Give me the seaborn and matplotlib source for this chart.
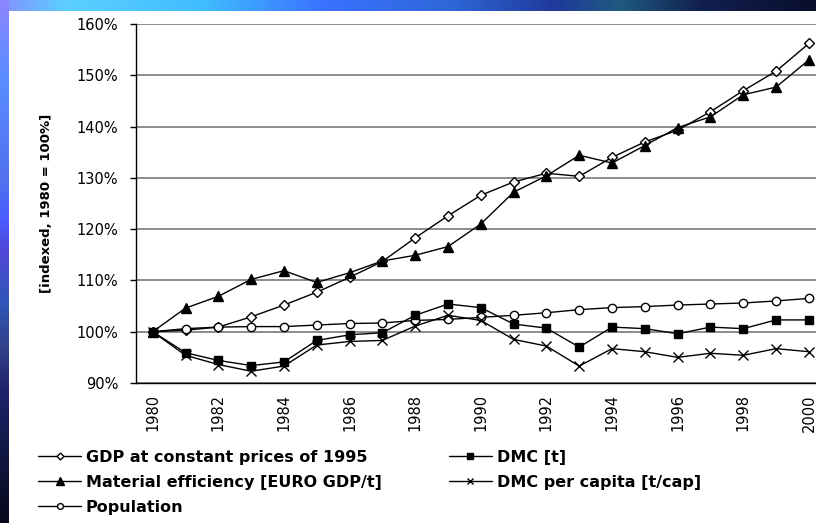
import numpy as np
import pandas as pd
import matplotlib
matplotlib.use("Agg")
import matplotlib.pyplot as plt
from matplotlib.colors import LinearSegmentedColormap
from matplotlib.ticker import FixedLocator, FuncFormatter
import seaborn as sns

# Indexed development, 1980 = 100 %
years = list(range(1980, 2001))
gdp = [100.0, 100.3, 100.9, 102.9, 105.2, 107.7, 110.6, 113.7, 118.3, 122.6, 126.6,
       129.2, 130.9, 130.3, 134.0, 137.0, 139.3, 142.9, 147.0, 150.8, 156.2]
material_efficiency = [100.0, 104.6, 106.9, 110.2, 111.9, 109.6, 111.5, 113.8, 114.9, 116.6, 121.0,
                       127.2, 130.4, 134.4, 132.9, 136.3, 139.8, 141.9, 146.2, 147.7, 153.0]
population = [100.0, 100.6, 100.9, 101.0, 101.0, 101.3, 101.6, 101.7, 102.2, 102.4, 102.8,
              103.2, 103.7, 104.3, 104.7, 104.9, 105.2, 105.4, 105.6, 106.0, 106.5]
dmc = [100.0, 95.9, 94.4, 93.4, 94.1, 98.3, 99.4, 99.8, 103.2, 105.4, 104.7,
       101.5, 100.7, 97.0, 100.9, 100.6, 99.6, 100.9, 100.6, 102.3, 102.3]
dmc_per_capita = [100.0, 95.4, 93.6, 92.3, 93.3, 97.4, 98.1, 98.3, 101.1, 103.2, 102.2,
                  98.5, 97.2, 93.3, 96.7, 96.1, 95.0, 95.8, 95.4, 96.7, 96.1]

series_names = ["GDP at constant prices of 1995",
                "Material efficiency [EURO GDP/t]",
                "Population",
                "DMC [t]",
                "DMC per capita [t/cap]"]
y_ticks = [90, 100, 110, 120, 130, 140, 150, 160]
x_tick_years = years[::2]

df = pd.DataFrame({"year": years,
                   series_names[0]: gdp,
                   series_names[1]: material_efficiency,
                   series_names[2]: population,
                   series_names[3]: dmc,
                   series_names[4]: dmc_per_capita})

sns.set_style("white")
plt.rcParams["font.family"] = ["DejaVu Sans"]
plt.rcParams["text.color"] = "black"
plt.rcParams["axes.labelcolor"] = "black"
plt.rcParams["xtick.color"] = "black"
plt.rcParams["ytick.color"] = "black"

W, H = 816, 523
fig = plt.figure(figsize=(W / 100, H / 100), dpi=100)
fig.patch.set_facecolor("white")

# slide background bands along the top and left edges
top_cmap = LinearSegmentedColormap.from_list("top", [
    (0.00, "#8590ff"), (0.08, "#5ccfff"), (0.25, "#40bcff"), (0.40, "#3a70ff"),
    (0.55, "#2e68d8"), (0.68, "#20399c"), (0.76, "#1f5a80"), (0.86, "#122050"),
    (1.00, "#090f2c")])
left_cmap = LinearSegmentedColormap.from_list("left", [
    (0.00, "#8a86ff"), (0.15, "#5a8cff"), (0.35, "#5070f0"), (0.42, "#4a5cff"),
    (0.48, "#5048d8"), (0.58, "#2f56b8"), (0.66, "#34428c"), (0.75, "#20226c"),
    (0.85, "#121a48"), (1.00, "#07081c")])
ax_top = fig.add_axes([0, 1 - 11 / H, 1, 11 / H])
ax_top.imshow(np.linspace(0, 1, 256)[None, :], aspect="auto", cmap=top_cmap,
              extent=[0, 1, 0, 1])
ax_top.set_axis_off()
ax_left = fig.add_axes([0, 0, 9 / W, 1])
ax_left.imshow(np.linspace(0, 1, 256)[:, None], aspect="auto", cmap=left_cmap,
               extent=[0, 1, 0, 1])
ax_left.set_axis_off()

x0, x1 = 136.3, 825.3
y_top, y_bot = 24.0, 383.0
ax = fig.add_axes([x0 / W, 1 - y_bot / H, (x1 - x0) / W, (y_bot - y_top) / H])
ax.set_facecolor("white")

styles = {
    series_names[0]: dict(marker="D", markersize=5, markerfacecolor="white"),
    series_names[1]: dict(marker="^", markersize=7.5, markerfacecolor="black"),
    series_names[2]: dict(marker="o", markersize=6, markerfacecolor="white"),
    series_names[3]: dict(marker="s", markersize=5.5, markerfacecolor="black"),
    series_names[4]: dict(marker="x", markersize=7, markerfacecolor="black"),
}
for name in series_names:
    sns.lineplot(data=df, x="year", y=name, ax=ax, color="black", linewidth=1.0,
                 markeredgecolor="black", markeredgewidth=1.0, label=name,
                 zorder=3, **styles[name])

ax.set_xlim(1979.5, 2000.5)
ax.set_ylim(90, 160)
ax.yaxis.set_major_locator(FixedLocator(y_ticks))
ax.yaxis.set_major_formatter(FuncFormatter(lambda v, p: f"{v:.0f}%"))
ax.grid(axis="y", color="#6e6e6e", linewidth=1.1, zorder=0)
ax.grid(axis="x", visible=False)
for side in ("top", "right"):
    ax.spines[side].set_visible(False)
for side in ("left", "bottom"):
    ax.spines[side].set_color("black")
    ax.spines[side].set_linewidth(1.0)
ax.spines["left"].set_zorder(4)

ax.set_xticks(x_tick_years)
ax.set_xticklabels([str(y) for y in x_tick_years], rotation=90)
ax.set_xticks(np.arange(1979.5, 2001, 1.0), minor=True)
ax.tick_params(axis="x", which="major", length=0, pad=8, labelsize=10.5,
               colors="black")
ax.tick_params(axis="x", which="minor", length=4.5, width=1.0, color="black",
               direction="out")
ax.tick_params(axis="y", which="major", length=4, width=1.0, color="black",
               direction="out", pad=9, labelsize=10.5, labelcolor="black")
ax.tick_params(left=True, bottom=True)

ax.set_xlabel("")
ax.set_ylabel("[indexed, 1980 = 100%]", fontsize=9.5, fontweight="bold",
              color="black")
ax.yaxis.set_label_coords(-0.121, 0.5)

handles, labels = ax.get_legend_handles_labels()
ax.get_legend().remove()
leg = fig.legend(handles, labels, ncol=2, loc="upper left",
                 bbox_to_anchor=(38 / W, 1 - 450 / H), frameon=False,
                 prop={"weight": "bold", "size": 11.5}, handlelength=2.7,
                 handletextpad=0.3, columnspacing=4.2, labelspacing=0.62,
                 borderpad=0, borderaxespad=0, markerscale=0.7,
                 labelcolor="black")

fig.savefig("out.png", dpi=100, facecolor=fig.get_facecolor())
